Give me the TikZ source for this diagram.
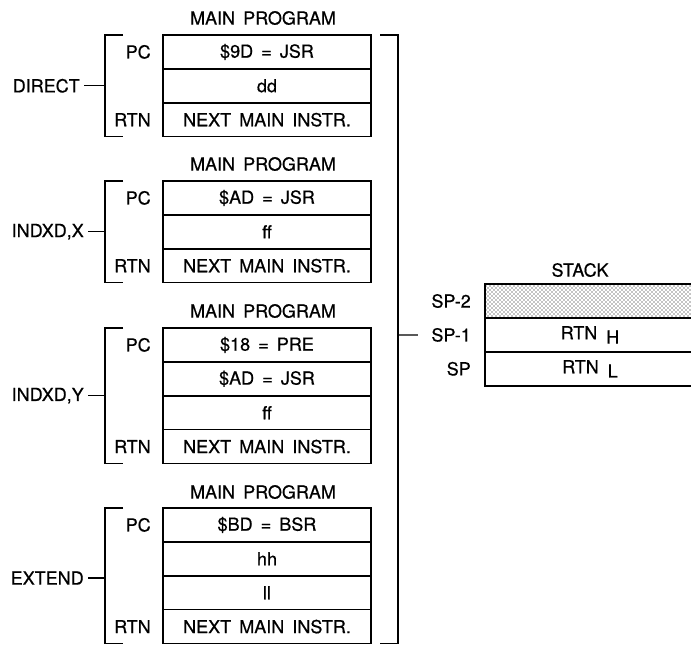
\documentclass[tikz,border=0pt]{standalone}
\usepackage{fontspec}
\setmainfont{TeX Gyre Heros}[FakeBold=0.6]
\usetikzlibrary{patterns}

\begin{document}
\begin{tikzpicture}[
    x=0.75pt, y=-0.75pt,
    every node/.style={font={\fontsize{13.5}{16}\selectfont\spaceskip 0.45em\relax}},
    cell/.style={draw, rectangle, line width=1.2pt, minimum width=156pt, minimum height=25.4pt, inner sep=0pt, text centered},
    stackcell/.style={cell, minimum width=157.5pt},
    tag/.style={anchor=east, inner sep=0pt},
    mode/.style={anchor=east, inner sep=3pt},
    brace/.style={line width=0.9pt}
]
\useasboundingbox (0,0) rectangle (691,644);
\clip (0,0) rectangle (691,644);

% Block 1 (direct)
\node (t1) at (263,18) {MAIN PROGRAM};
\node[cell] (a1) at (267,51.9) {\$9D = JSR};
\node[cell] (a2) at (267,85.8) {dd};
\node[cell] (a3) at (267,119.7) {NEXT MAIN INSTR.};
\node[tag] (pc1) at (151,51.9) {PC};
\node[tag] (rtn1) at (151,119.7) {RTN};
\draw[brace] (123,35) -- (105,35) -- (105,136.6) -- (123,136.6);
\coordinate (lb1) at (105,85.8);
\node[mode] (direct) at (84,85.8) {DIRECT};
\draw[brace] (direct) -- (lb1);

% Block 2 (indexed x)
\node (t2) at (263,164) {MAIN PROGRAM};
\node[cell] (b1) at (267,197.9) {\$AD = JSR};
\node[cell] (b2) at (267,231.8) {ff};
\node[cell] (b3) at (267,265.7) {NEXT MAIN INSTR.};
\node[tag] (pc2) at (151,197.9) {PC};
\node[tag] (rtn2) at (151,265.7) {RTN};
\draw[brace] (123,181) -- (105,181) -- (105,282.6) -- (123,282.6);
\coordinate (lb2) at (105,231.8);
\node[mode] (indx) at (88,231.8) {INDXD,X};
\draw[brace] (indx) -- (lb2);

% Block 3 (indexed y)
\node (t3) at (263,311) {MAIN PROGRAM};
\node[cell] (c1) at (267,344.9) {\$18 = PRE};
\node[cell] (c2) at (267,378.8) {\$AD = JSR};
\node[cell] (c3) at (267,412.7) {ff};
\node[cell] (c4) at (267,446.6) {NEXT MAIN INSTR.};
\node[tag] (pc3) at (151,344.9) {PC};
\node[tag] (rtn3) at (151,446.6) {RTN};
\draw[brace] (123,328) -- (105,328) -- (105,463.5) -- (123,463.5);
\coordinate (lb3) at (105,395.7);
\node[mode] (indy) at (88,395.7) {INDXD,Y};
\draw[brace] (indy) -- (lb3);

% Block 4 (extended)
\node (t4) at (263,492) {MAIN PROGRAM};
\node[cell] (d1) at (267,524.9) {\$BD = BSR};
\node[cell] (d2) at (267,558.8) {hh};
\node[cell] (d3) at (267,592.7) {ll};
\node[cell] (d4) at (267,626.6) {NEXT MAIN INSTR.};
\node[tag] (pc4) at (151,524.9) {PC};
\node[tag] (rtn4) at (151,626.6) {RTN};
\draw[brace] (123,508) -- (105,508) -- (105,643.4) -- (123,643.4);
\coordinate (lb4) at (105,578);
\node[mode] (ext) at (88,578) {EXTEND};
\draw[brace] (ext) -- (lb4);

% Right bracket
\draw[brace] (380,35) -- (398,35) -- (398,643.4) -- (380,643.4);
\coordinate (rb) at (398,335);

% Stack
\node (stk) at (580,270) {STACK};
\node[stackcell, pattern=crosshatch dots] (s2) at (590,301) {};
\node[stackcell] (s1) at (590,334.9) {RTN\hspace{0.5em}\raisebox{-0.45ex}{H}};
\node[stackcell] (s0) at (590,368.8) {RTN\hspace{0.5em}\raisebox{-0.45ex}{L}};
\node[tag] (sp2) at (471,301) {SP-2};
\node[tag] (sp1) at (471,334.9) {SP-1};
\node[tag] (sp0) at (471,368.8) {SP};
\draw[brace, shorten >=10pt] (rb) -- (sp1);

\end{tikzpicture}
\end{document}
